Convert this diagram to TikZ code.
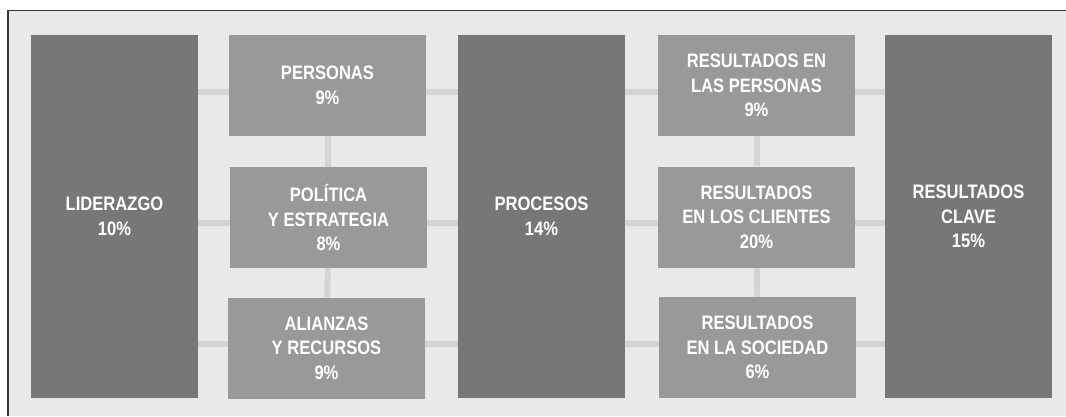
\documentclass[tikz,border=0pt]{standalone}
\usepackage{fontspec}
\setmainfont{Liberation Sans}
\newfontfamily\rotulo{Liberation Sans}[FakeStretch=0.85]
\usepackage{xcolor}
\usetikzlibrary{positioning}
\definecolor{fondo}{HTML}{E9E9E9}
\definecolor{oscuro}{HTML}{777777}
\definecolor{medio}{HTML}{999999}
\definecolor{enlace}{HTML}{D4D4D4}
\pgfdeclarelayer{back}
\pgfsetlayers{back,main}

\begin{document}
\begin{tikzpicture}[x=1pt,y=-1pt,
  every node/.style={font=\rotulo\bfseries\fontsize{19.5}{24.5}\selectfont,text=white,inner sep=0pt,align=center},
  pilar/.style={fill=oscuro,minimum width=167pt,minimum height=363pt},
  bloque/.style={fill=medio,minimum width=197pt,minimum height=101pt},
  link/.style={draw=enlace,line width=6pt}]
\useasboundingbox (0,0) rectangle (1066,416);
\node[pilar]  (lid)  at (114.5,216.5) {LIDERAZGO\\10\%};
\node[bloque] (per)  at (327.5, 85.5) {PERSONAS\\9\%};
\node[bloque] (pol)  at (328.5,217.5) {POLÍTICA\\Y ESTRATEGIA\\8\%};
\node[bloque] (ali)  at (326.5,348)   {ALIANZAS\\Y RECURSOS\\9\%};
\node[pilar]  (pro)  at (541.5,216.5) {PROCESOS\\14\%};
\node[bloque] (rper) at (756.5, 85.5) {RESULTADOS EN\\LAS PERSONAS\\9\%};
\node[bloque] (rcli) at (756.5,217)   {RESULTADOS\\EN LOS CLIENTES\\20\%};
\node[bloque] (rsoc) at (757.5,347.5) {RESULTADOS\\EN LA SOCIEDAD\\6\%};
\node[pilar]  (rcla) at (968.5,216.5) {RESULTADOS\\CLAVE\\15\%};
\coordinate (fila1) at (0,92);
\coordinate (fila2) at (0,223);
\coordinate (fila3) at (0,343.5);
\begin{pgfonlayer}{back}
% fondo y marco
\fill[fondo] (8,10.5) rectangle (1066,416);
\draw[black!80,line width=1.2pt] (1066,10.5) -- (8,10.5) -- (8,416);
\foreach \a/\b/\f in {lid/per/fila1,lid/pol/fila2,lid/ali/fila3,
                      per/pro/fila1,pol/pro/fila2,ali/pro/fila3,
                      pro/rper/fila1,pro/rcli/fila2,pro/rsoc/fila3,
                      rper/rcla/fila1,rcli/rcla/fila2,rsoc/rcla/fila3}
  \draw[link] (\a.east |- \f) -- (\b.west |- \f);
\draw[link] (per) -- (pol);
\draw[link] (pol) -- (ali);
\draw[link] (rper) -- (rcli);
\draw[link] (rcli) -- (rsoc);
\end{pgfonlayer}
\end{tikzpicture}
\end{document}
